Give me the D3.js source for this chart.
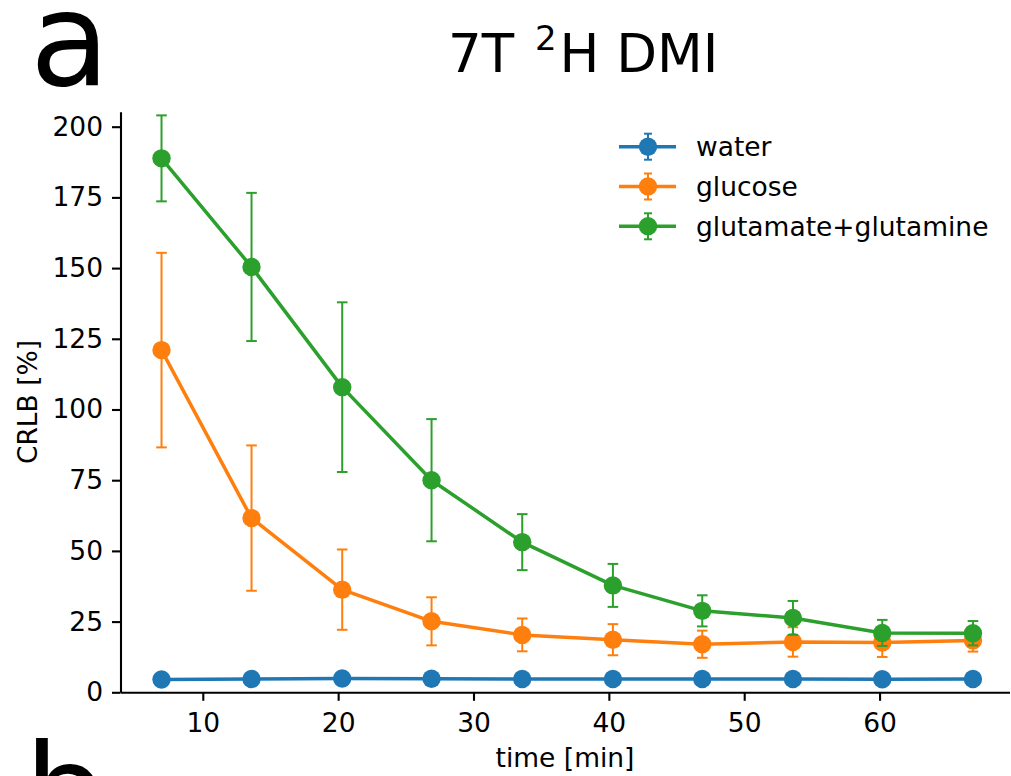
<!DOCTYPE html>
<html>
<head>
<meta charset="utf-8">
<script src="https://cdn.jsdelivr.net/npm/d3@7"></script>
<style>
  body { margin: 0; background: #fff; }
  svg { display: block; font-family: "DejaVu Sans", sans-serif; }
</style>
</head>
<body>
<svg id="chart" width="1011" height="776"></svg>
<script>
// time points [min]
const times = [6.95, 13.6, 20.3, 26.9, 33.6, 40.3, 46.9, 53.6, 60.2, 66.9];

// CRLB [%] mean and error per metabolite
const water = [4.5, 4.7, 4.9, 4.8, 4.7, 4.7, 4.7, 4.7, 4.6, 4.7];
const waterErr = [0.4, 0.4, 0.4, 0.4, 0.4, 0.4, 0.4, 0.4, 0.4, 0.4];
const glucose = [121.0, 61.6, 36.3, 25.1, 20.3, 18.6, 17.0, 17.8, 17.6, 18.3];
const glucoseErr = [34.4, 25.7, 14.2, 8.5, 5.8, 5.5, 4.8, 5.2, 5.1, 3.9];
const glx = [188.8, 150.4, 107.9, 75.0, 53.1, 37.8, 28.8, 26.3, 21.0, 20.9];
const glxErr = [15.2, 26.2, 30.0, 21.6, 9.9, 7.6, 5.5, 6.0, 4.6, 4.3];

const seriesNames = ["water", "glucose", "glutamate+glutamine"];
const seriesColors = ["#1f77b4", "#ff7f0e", "#2ca02c"];
const xTicks = [10, 20, 30, 40, 50, 60];
const yTicks = [0, 25, 50, 75, 100, 125, 150, 175, 200];

const series = [
  { name: seriesNames[0], color: seriesColors[0], y: water, err: waterErr },
  { name: seriesNames[1], color: seriesColors[1], y: glucose, err: glucoseErr },
  { name: seriesNames[2], color: seriesColors[2], y: glx, err: glxErr }
];

const svg = d3.select("#chart");
const fontSize = 26.5;

const plotLeft = 120.5, plotRight = 1009.5, plotTop = 111.7, plotBottom = 692.3;

const x = d3.scaleLinear().domain([3.92, 69.6]).range([plotLeft, plotRight]);
const y = d3.scaleLinear().domain([0, 205.3]).range([plotBottom, plotTop]);

// axes
const xAxis = svg.append("g")
    .attr("transform", `translate(0,${plotBottom})`)
    .call(d3.axisBottom(x).tickValues(xTicks).tickSizeInner(8.5).tickSizeOuter(0).tickPadding(12));
const yAxis = svg.append("g")
    .attr("transform", `translate(${plotLeft},0)`)
    .call(d3.axisLeft(y).tickValues(yTicks).tickSizeInner(8.5).tickSizeOuter(0).tickPadding(9));

[xAxis, yAxis].forEach(a => {
    a.select(".domain").attr("stroke", "#000").attr("stroke-width", 2.1);
    a.selectAll(".tick line").attr("stroke", "#000").attr("stroke-width", 2.1);
    a.selectAll(".tick text")
        .attr("fill", "#000")
        .style("font-family", "DejaVu Sans")
        .style("font-size", fontSize + "px");
});

// axis labels
svg.append("text")
    .attr("x", (plotLeft + plotRight) / 2)
    .attr("y", 767)
    .attr("text-anchor", "middle")
    .style("font-size", fontSize + "px")
    .text("time [min]");

svg.append("text")
    .attr("transform", `translate(36.5,${(plotTop + plotBottom) / 2}) rotate(-90)`)
    .attr("text-anchor", "middle")
    .style("font-size", fontSize + "px")
    .text("CRLB [%]");

// title with superscript (mathtext-like spacing)
const title = svg.append("text")
    .attr("x", 448)
    .attr("y", 71.7)
    .style("font-size", "53px");
title.append("tspan").text("7T ");
title.append("tspan").attr("dx", 4).attr("dy", -21.7).style("font-size", "34px").text("2");
title.append("tspan").attr("dx", 3).attr("dy", 21.7).text("H DMI");

// panel letters
svg.append("text").attr("x", 30).attr("y", 85).style("font-size", "130px").text("a");
svg.append("text").attr("x", 24.2).attr("y", 837).style("font-size", "130px").text("b");

// data
const cap = 5.3;
const line = d3.line().x((d, i) => x(times[i])).y(d => y(d));

series.forEach(s => {
    const g = svg.append("g");
    const eb = g.selectAll(".eb").data(s.y).enter().append("g");
    eb.append("line")
        .attr("x1", (d, i) => x(times[i])).attr("x2", (d, i) => x(times[i]))
        .attr("y1", (d, i) => y(d - s.err[i])).attr("y2", (d, i) => y(d + s.err[i]))
        .attr("stroke", s.color).attr("stroke-width", 2);
    [-1, 1].forEach(sign => {
        eb.append("line")
            .attr("x1", (d, i) => x(times[i]) - cap).attr("x2", (d, i) => x(times[i]) + cap)
            .attr("y1", (d, i) => y(d + sign * s.err[i])).attr("y2", (d, i) => y(d + sign * s.err[i]))
            .attr("stroke", s.color).attr("stroke-width", 2);
    });
    g.append("path")
        .attr("d", line(s.y))
        .attr("fill", "none")
        .attr("stroke", s.color)
        .attr("stroke-width", 3.5)
        .attr("stroke-linejoin", "round");
    g.selectAll(".pt").data(s.y).enter().append("circle")
        .attr("cx", (d, i) => x(times[i]))
        .attr("cy", d => y(d))
        .attr("r", 9.2)
        .attr("fill", s.color);
});

// legend
const legend = svg.append("g");
series.forEach((s, i) => {
    const ly = 146.7 + i * 39.8;
    const lg = legend.append("g");
    lg.append("line").attr("x1", 619).attr("x2", 676).attr("y1", ly).attr("y2", ly)
        .attr("stroke", s.color).attr("stroke-width", 3.5);
    lg.append("line").attr("x1", 648).attr("x2", 648).attr("y1", ly - 13).attr("y2", ly + 13)
        .attr("stroke", s.color).attr("stroke-width", 2);
    [-13, 13].forEach(o => {
        lg.append("line").attr("x1", 644).attr("x2", 652).attr("y1", ly + o).attr("y2", ly + o)
            .attr("stroke", s.color).attr("stroke-width", 2);
    });
    lg.append("circle").attr("cx", 648).attr("cy", ly).attr("r", 9.2).attr("fill", s.color);
    lg.append("text")
        .attr("x", 696)
        .attr("y", ly)
        .attr("dy", "0.35em")
        .style("font-size", fontSize + "px")
        .text(s.name);
});
</script>
</body>
</html>
